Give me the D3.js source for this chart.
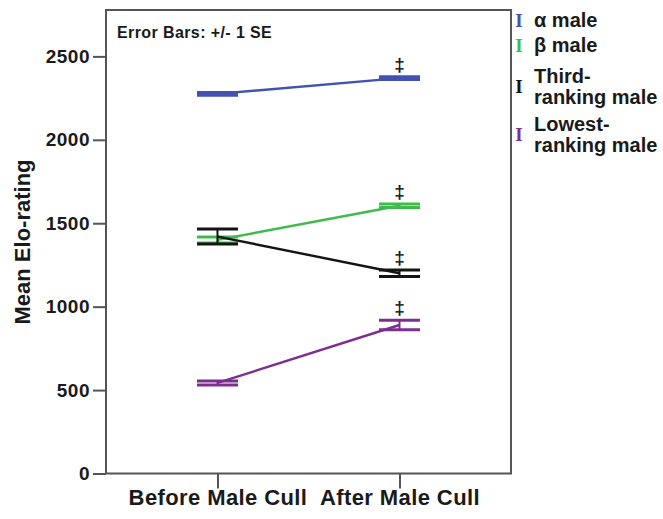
<!DOCTYPE html>
<html>
<head>
<meta charset="utf-8">
<script src="https://cdn.jsdelivr.net/npm/d3@7"></script>
<style>
  body { margin: 0; background: #fff; }
  svg text { font-family: "Liberation Sans", Arial, sans-serif; font-weight: bold; fill: #1a1a1a; }
</style>
</head>
<body>
<svg id="chart"></svg>
<script>
// Chart data
const periods = ["Before Male Cull", "After Male Cull"];
const groups = ["α male", "β male", "Third-ranking male", "Lowest-ranking male"];
const legendLines = [["α male"], ["β male"], ["Third-", "ranking male"], ["Lowest-", "ranking male"]];
const colors = ["#4152b3", "#3fbb4b", "#141414", "#7d2f90"];
const beforeMean = [2275, 1400, 1420, 543];
const afterMean = [2370, 1605, 1200, 890];
const beforeSE = [8, 18, 45, 12];
const afterSE = [8, 10, 20, 28];
const yTicks = [0, 500, 1000, 1500, 2000, 2500];

const width = 663, height = 519;
const plotLeft = 106, plotRight = 511, plotTop = 10, plotBottom = 473.5;

const svg = d3.select("#chart")
  .attr("width", width)
  .attr("height", height);

const xScale = d3.scalePoint()
  .domain(periods)
  .range([plotLeft, plotRight])
  .padding(0.6125);

const yScale = d3.scaleLinear()
  .domain([0, 2778])
  .range([plotBottom, plotTop]);

// Frame
svg.append("rect")
  .attr("x", plotLeft).attr("y", plotTop)
  .attr("width", plotRight - plotLeft).attr("height", plotBottom - plotTop)
  .attr("fill", "none")
  .attr("stroke", "#555")
  .attr("stroke-width", 2);

// Axes
const yAxis = d3.axisLeft(yScale).tickValues(yTicks).tickFormat(d3.format("d")).tickSize(13).tickPadding(3);
const gy = svg.append("g")
  .attr("transform", `translate(${plotLeft},0)`)
  .call(yAxis);
gy.select(".domain").remove();
gy.selectAll("line").attr("stroke", "#555").attr("stroke-width", 2);
gy.selectAll("text").style("font-size", "19px").style("letter-spacing", "0.5px").attr("fill", "#1a1a1a");

const xAxis = d3.axisBottom(xScale).tickSize(15).tickPadding(1);
const gx = svg.append("g")
  .attr("transform", `translate(0,${plotBottom})`)
  .call(xAxis);
gx.select(".domain").remove();
gx.selectAll("line").attr("stroke", "#555").attr("stroke-width", 2);
gx.selectAll("text").style("font-size", "22px").style("letter-spacing", "0.4px").attr("fill", "#1a1a1a");

// Y title
svg.append("text")
  .attr("transform", "translate(30,242) rotate(-90)")
  .attr("text-anchor", "middle")
  .style("font-size", "22px")
  .text("Mean Elo-rating");

svg.append("text")
  .attr("x", 117).attr("y", 38)
  .style("font-size", "16px")
  .style("letter-spacing", "0.4px")
  .text("Error Bars: +/- 1 SE");

const capHalf = 20.5;

groups.forEach((g, i) => {
  const pts = [
    { p: periods[0], m: beforeMean[i], se: beforeSE[i] },
    { p: periods[1], m: afterMean[i], se: afterSE[i] }
  ];
  const grp = svg.append("g");
  // connecting line
  grp.append("line")
    .attr("x1", xScale(pts[0].p)).attr("y1", yScale(pts[0].m))
    .attr("x2", xScale(pts[1].p)).attr("y2", yScale(pts[1].m))
    .attr("stroke", colors[i]).attr("stroke-width", 2.4);
  pts.forEach(d => {
    const cx = xScale(d.p);
    grp.append("line")
      .attr("x1", cx).attr("x2", cx)
      .attr("y1", yScale(d.m + d.se)).attr("y2", yScale(d.m - d.se))
      .attr("stroke", colors[i]).attr("stroke-width", 2);
    [d.m + d.se, d.m - d.se].forEach(v => {
      grp.append("line")
        .attr("x1", cx - capHalf).attr("x2", cx + capHalf)
        .attr("y1", yScale(v)).attr("y2", yScale(v))
        .attr("stroke", colors[i]).attr("stroke-width", 3);
    });
  });
  // significance marker
  svg.append("text")
    .attr("x", xScale(periods[1]))
    .attr("y", yScale(afterMean[i] + afterSE[i]) - 6)
    .attr("text-anchor", "middle")
    .style("font-size", "19px")
    .text("‡");
});

// Legend
const legendY = [27, 52, 83, 131];
groups.forEach((g, i) => {
  const lg = svg.append("g").attr("transform", `translate(0,${legendY[i]})`);
  const my = legendLines[i].length > 1 ? 10 : 0;
  lg.append("text")
    .attr("x", 519).attr("y", my)
    .attr("text-anchor", "middle")
    .style("font-family", "'Liberation Serif', serif")
    .style("font-weight", "bold")
    .style("font-size", "19px")
    .style("fill", colors[i])
    .text("I");
  legendLines[i].forEach((t, j) => {
    lg.append("text")
      .attr("x", 534).attr("y", j * 21)
      .style("font-size", "20px")
      .text(t);
  });
});
</script>
</body>
</html>
